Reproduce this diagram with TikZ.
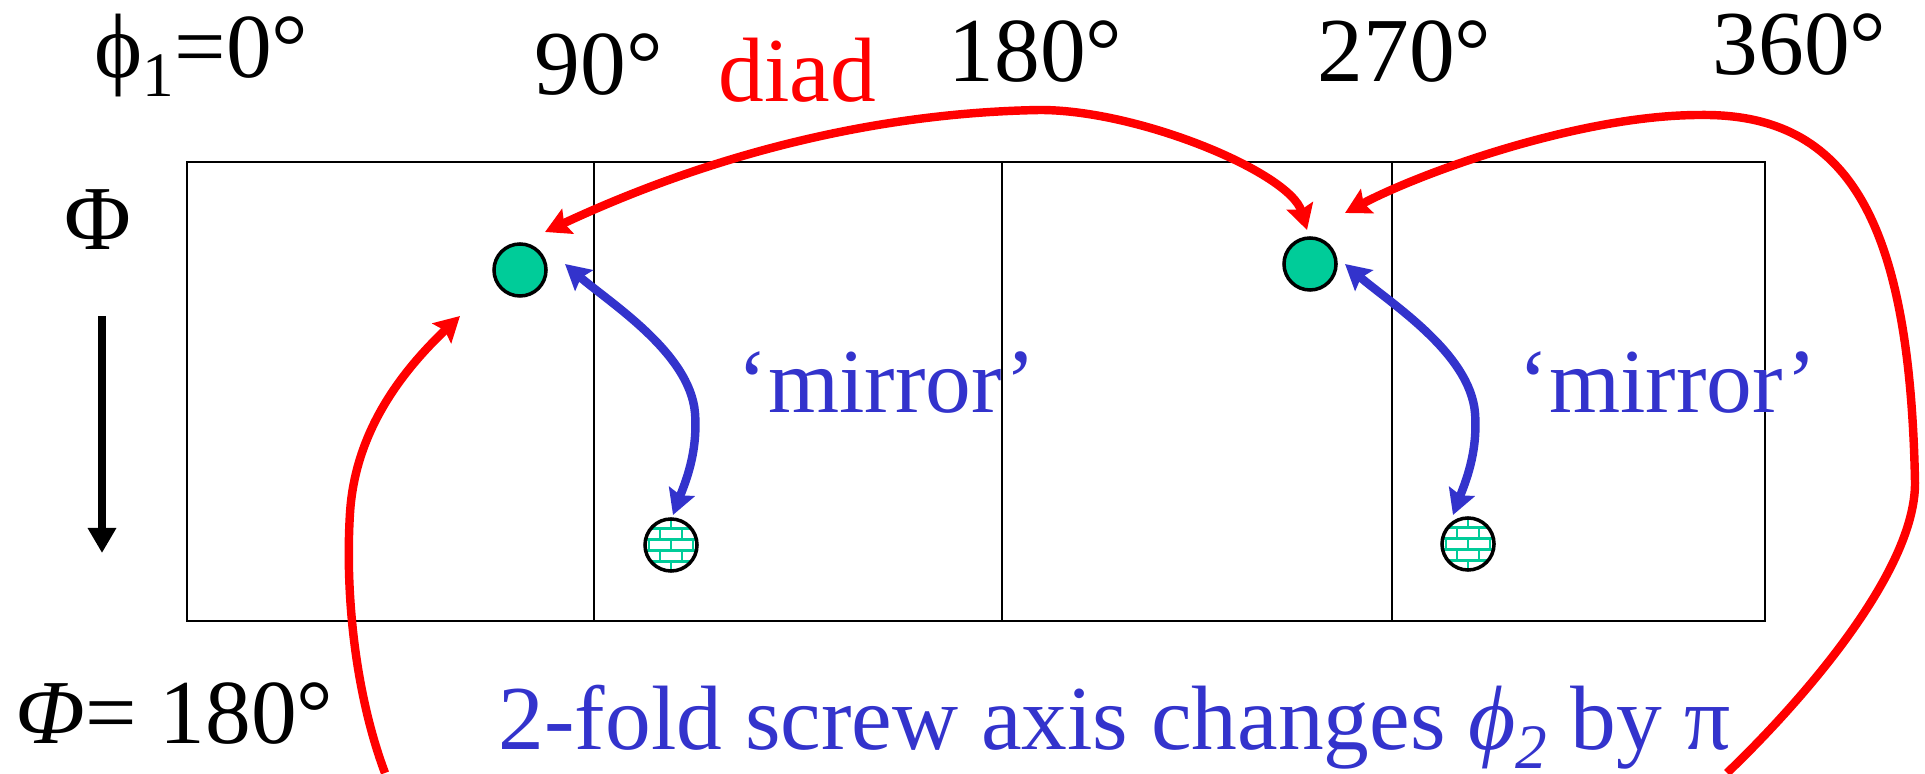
\documentclass[tikz,border=0pt]{standalone}
\usepackage{fontspec}
\setmainfont{Liberation Serif}
\usetikzlibrary{arrows.meta}
\definecolor{diadred}{HTML}{FF0000}
\definecolor{mirrorblue}{HTML}{3333CC}
\definecolor{atomgreen}{HTML}{00CC99}
\newcommand{\lowidx}[1]{\raisebox{-0.2em}{\fontsize{18}{20}\selectfont #1}}

\begin{document}
\begin{tikzpicture}[
  x=0.01cm, y=0.01cm,
  >={Stealth[length=0.25cm, width=0.27cm, inset=0.04cm]},
  every node/.style={font=\fontsize{26}{31}\selectfont, inner sep=0pt},
  lbl/.style={anchor=base west},
  frame/.style={line width=0.8pt},
  redarr/.style={draw=diadred, line width=2.4pt},
  bluearr/.style={draw=mirrorblue, line width=2.4pt},
  brickline/.style={draw=atomgreen, line width=0.8pt},
  atom/.style={circle, draw, line width=1pt, minimum size=0.52cm, fill=atomgreen},
  brickatom/.style={circle, draw, line width=1pt, minimum size=0.52cm, fill=white,
    path picture={
      \begin{scope}[shift={(path picture bounding box.center)}]
        \foreach \k in {-3,...,2} {
          \pgfmathsetmacro\yb{\k*11+5.5}
          \pgfmathsetmacro\off{mod(\k+3,2)*11}
          \draw[brickline] (-30,\yb) -- (30,\yb);
          \foreach \j in {-2,...,1} \draw[brickline] (\off+\j*22,\yb) -- ++(0,11);
        }
      \end{scope}}}]
\useasboundingbox (0,0) rectangle (1925,773);
\draw[frame] (187,152) rectangle (1765,611);
\foreach \x in {594,1002,1392} \draw[frame] (\x,152) -- (\x,611);

\node[lbl] (phione) at (94,695) {ϕ\lowidx{1}=0°};
\node[lbl] (ninety) at (534,678) {90°};
\node[lbl, text=diadred] (diad) at (718,671) {diad};
\node[lbl] (oneeighty) at (948,691) {180°};
\node[lbl] (twoseventy) at (1317,691) {270°};
\node[lbl] (threesixty) at (1712,698) {360°};
\node[anchor=base] (phiaxis) at (98,523) {Φ};
\node[lbl] (phiend) at (15,30) {\textit{Φ}= 180°};
\node[lbl, text=mirrorblue] (screw) at (498,23) {2-fold screw axis changes \textit{ϕ}\lowidx{\textit{2}} by π};
\node[lbl, text=mirrorblue] (mirrorA) at (737,360) {‘mirror’};
\node[lbl, text=mirrorblue] (mirrorB) at (1518,360) {‘mirror’};

\node[atom] (atomA) at (520,503) {};
\node[atom] (atomB) at (1310,509) {};
\node[brickatom] (brickA) at (671,228) {};
\node[brickatom] (brickB) at (1468,229) {};

\coordinate (axtop) at (102,457);
\coordinate (axbot) at (102,220);
\coordinate (exitL) at (385,0);
\coordinate (exitR) at (1727,0);

\draw[line width=2.4pt, -{Triangle[length=0.25cm, width=0.27cm]}] (axtop) -- (axbot);
\draw[redarr, <->] ([shift={(25,38)}]atomA.center) .. controls (695,611) and (860,660) .. (1040,663)
  .. controls (1140,663) and (1290,600) .. ([shift={(-3,34)}]atomB.center);
\draw[redarr, ->] (exitR) .. controls (1800,70) and (1915,200) .. (1915,290)
  .. controls (1910,550) and (1850,660) .. (1700,658)
  .. controls (1580,658) and (1420,600) .. ([shift={(35,51)}]atomB.center);
\draw[redarr, ->] (exitL) .. controls (355,80) and (345,180) .. (350,260)
  .. controls (355,340) and (400,400) .. ([shift={(-60,-46)}]atomA.center);
\draw[bluearr, <->] ([shift={(45,6)}]atomA.center) .. controls (610,470) and (690,420) .. (695,360)
  .. controls (698,320) and (685,290) .. ([shift={(2,30)}]brickA.center);
\draw[bluearr, <->] ([shift={(35,0)}]atomB.center) .. controls (1390,470) and (1470,420) .. (1475,360)
  .. controls (1478,320) and (1465,290) .. ([shift={(-15,29)}]brickB.center);
\end{tikzpicture}
\end{document}
